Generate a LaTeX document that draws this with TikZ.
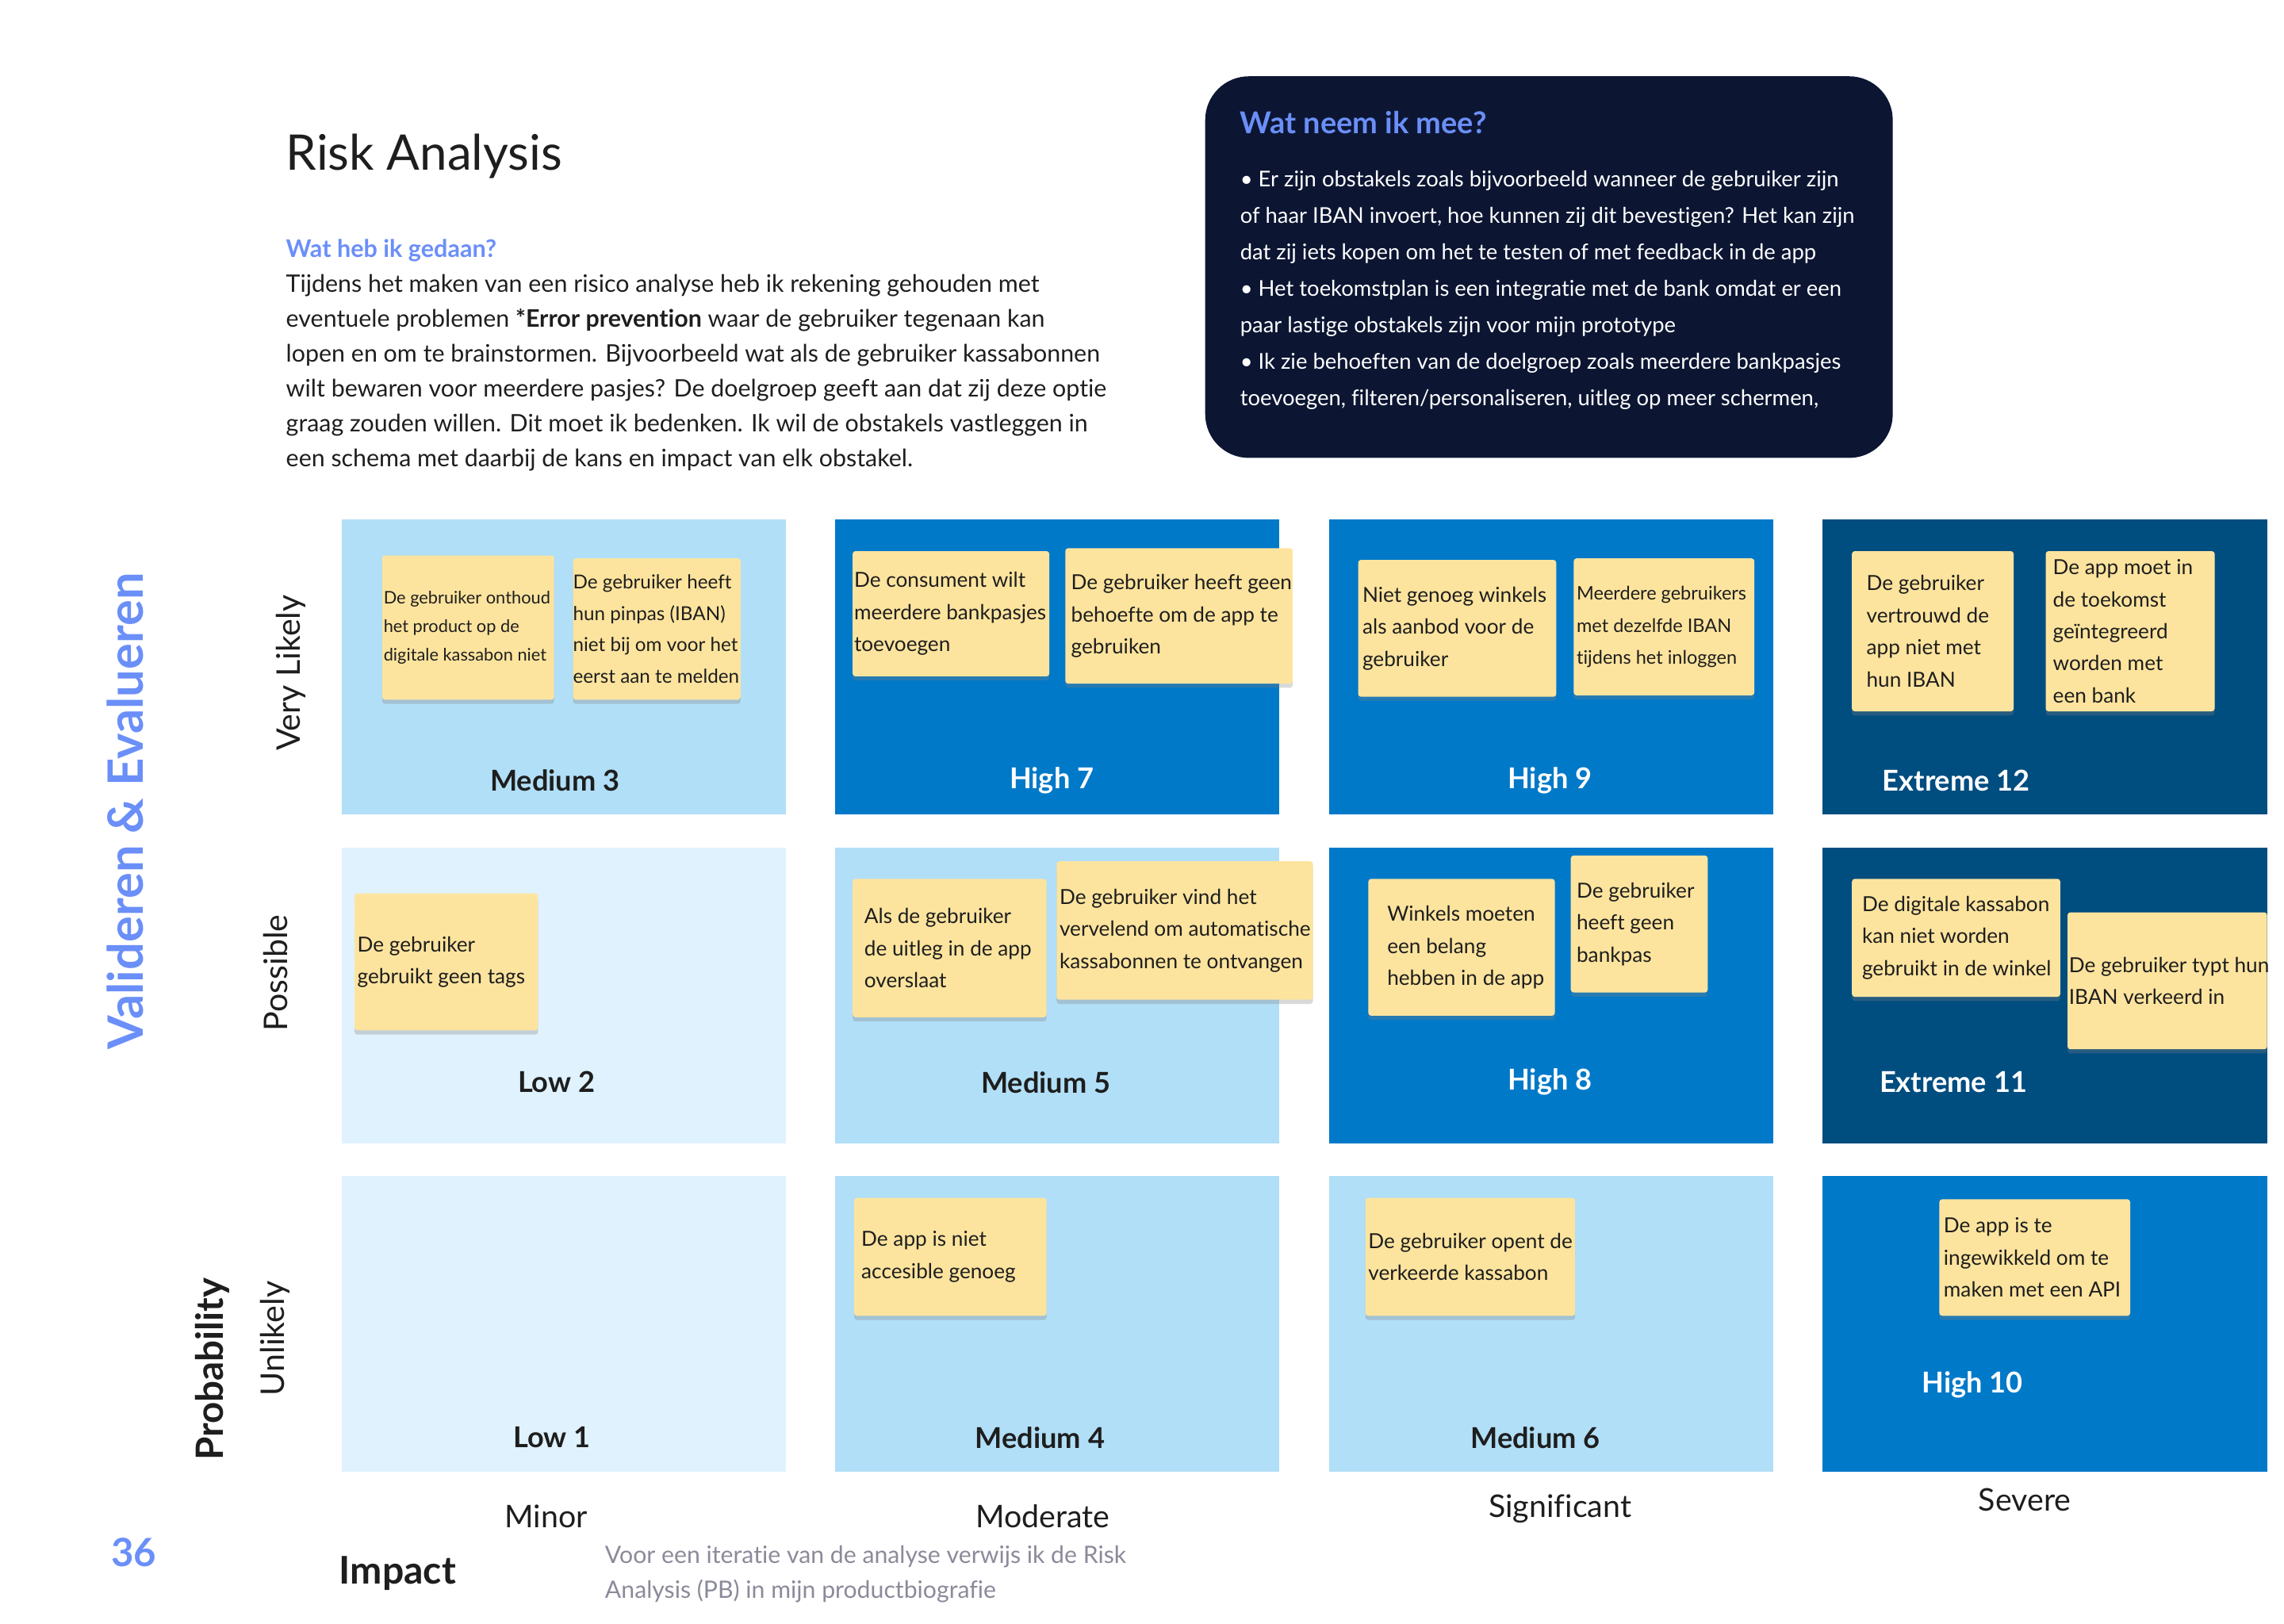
\documentclass[tikz,border=0pt]{standalone}
\usepackage{fontspec}
\setmainfont{Lato}[Ligatures=NoCommon]
\usetikzlibrary{shadows}
\definecolor{lowblue}{HTML}{DFF2FE}
\definecolor{medblue}{HTML}{B1DFF7}
\definecolor{highblue}{HTML}{0079C9}
\definecolor{extblue}{HTML}{004D80}
\definecolor{notefill}{HTML}{FDE49E}
\definecolor{navy}{HTML}{0C1633}
\definecolor{accent}{HTML}{6B8FF8}
\definecolor{ink}{HTML}{1E1E1E}
\definecolor{greytext}{HTML}{8A8A9A}
\newlength{\upx}\setlength{\upx}{0.018367cm}
% sticky note: [text style]{name}{x}{y}{width}{height}{inset}{text}
\newcommand{\sticky}[8][]{%
  \node[note, minimum width=#5*\upx, minimum height=#6*\upx, anchor=north west] (#2) at (#3,#4) {};
  \node[notetext, #1, anchor=west] (#2t) at ([xshift=#7*\upx]#2.west) {#8};}
\tikzset{
  cell/.style={minimum width=305*\upx, minimum height=203*\upx, anchor=north west, inner sep=0},
  note/.style={fill=notefill, rounded corners=1pt, inner sep=0,
    drop shadow={shadow xshift=0pt, shadow yshift=-1.5pt, opacity=0.3}},
  notetext/.style={inner sep=0, align=left, text=ink, font=\fontsize{7.45}{11.5}\selectfont},
  risk/.style={font=\fontsize{10.3}{12}\selectfont\bfseries},
  axis/.style={text=ink, font=\fontsize{11.2}{13}\selectfont},
  sidelabel/.style={text=ink, rotate=90, font=\fontsize{11.7}{13}\selectfont},
}
\begin{document}
\begin{tikzpicture}[x=0.018367cm, y=-0.018367cm]
  \useasboundingbox (0,0) rectangle (1568,1115);
  % header
  \node[anchor=west, inner sep=0, text=ink, font=\fontsize{17.6}{20}\selectfont] (title) at (196,107) {Risk Analysis};
  \node[anchor=west, inner sep=0, text=accent, font=\fontsize{8.7}{10}\selectfont\bfseries] (done) at (196,172) {Wat heb ik gedaan?};
  \node[anchor=north west, inner sep=0, align=left, text=ink, font=\fontsize{8.65}{12.5}\selectfont] (intro) at (196,188)
    {Tijdens het maken van een risico analyse heb ik rekening gehouden met\\
     eventuele problemen \textbf{*Error prevention} waar de gebruiker tegenaan kan\\
     lopen en om te brainstormen. Bijvoorbeeld wat als de gebruiker kassabonnen\\
     wilt bewaren voor meerdere pasjes? De doelgroep geeft aan dat zij deze optie\\
     graag zouden willen. Dit moet ik bedenken. Ik wil de obstakels vastleggen in\\
     een schema met daarbij de kans en impact van elk obstakel.};
  % takeaway box
  \node[fill=navy, rounded corners=0.55cm, inner sep=0, minimum width=472*\upx, minimum height=262*\upx, anchor=north west] (box) at (827,52) {};
  \node[anchor=west, inner sep=0, text=accent, font=\fontsize{10.8}{12}\selectfont\bfseries] (boxtitle) at (851,84) {Wat neem ik mee?};
  \node[anchor=north west, inner sep=0, align=left, text=white, font=\fontsize{7.8}{13.1}\selectfont] (boxtext) at (851,117)
    {• Er zijn obstakels zoals bijvoorbeeld wanneer de gebruiker zijn\\
     of haar IBAN invoert, hoe kunnen zij dit bevestigen? Het kan zijn\\
     dat zij iets kopen om het te testen of met feedback in de app\\
     • Het toekomstplan is een integratie met de bank omdat er een\\
     paar lastige obstakels zijn voor mijn prototype\\
     • Ik zie behoeften van de doelgroep zoals meerdere bankpasjes\\
     toevoegen, filteren/personaliseren, uitleg op meer schermen,};
  % risk matrix
  \foreach \r/\c/\col/\txt/\lab/\lx/\ly in {
      1/1/medblue/ink/Medium 3/381/536, 1/2/highblue/white/High 7/722/536,
      1/3/highblue/white/High 9/1064/536, 1/4/extblue/white/Extreme 12/1343/536,
      2/1/lowblue/ink/Low 2/382/743, 2/2/medblue/ink/Medium 5/718/743,
      2/3/highblue/white/High 8/1064/743, 2/4/extblue/white/Extreme 11/1341/743,
      3/1/lowblue/ink/Low 1/379/987, 3/2/medblue/ink/Medium 4/714/987,
      3/3/medblue/ink/Medium 6/1054/987, 3/4/highblue/white/High 10/1354/951}
    {\node[cell, fill=\col] (c\r\c) at ({234+339*(\c-1)}, {356+225.5*(\r-1)}) {};
     \node[risk, text=\txt] (l\r\c) at (\lx,\ly) {\lab};}
  % sticky notes
  \sticky[font=\fontsize{6.2}{10.2}\selectfont]{n1}{262}{381}{118}{99}{1}{De gebruiker onthoud\\het product op de\\digitale kassabon niet}
  \sticky[font=\fontsize{6.9}{11.3}\selectfont]{n2}{393}{383}{115}{97}{0}{De gebruiker heeft\\hun pinpas (IBAN)\\niet bij om voor het\\eerst aan te melden}
  \sticky{n3}{585}{378}{135}{86}{1}{De consument wilt\\meerdere bankpasjes\\toevoegen}
  \sticky{n4}{731}{376}{156}{93}{4}{De gebruiker heeft geen\\behoefte om de app te\\gebruiken}
  \sticky{n5}{932}{384}{136}{94}{3}{Niet genoeg winkels\\als aanbod voor de\\gebruiker}
  \sticky[font=\fontsize{6.7}{11.5}\selectfont]{n6}{1080}{383}{124}{94}{2}{Meerdere gebruikers\\met dezelfde IBAN\\tijdens het inloggen}
  \sticky{n7}{1271}{378}{111}{110}{10}{De gebruiker\\vertrouwd de\\app niet met\\hun IBAN}
  \sticky{n8}{1404}{378}{116}{110}{5}{De app moet in\\de toekomst\\geïntegreerd\\worden met\\een bank}
  \sticky{n9}{243}{613}{126}{94}{2}{De gebruiker\\gebruikt geen tags}
  \sticky{n10}{585}{603}{133}{95}{8}{Als de gebruiker\\de uitleg in de app\\overslaat}
  \sticky{n11}{725}{591}{176}{95}{2}{De gebruiker vind het\\vervelend om automatische\\kassabonnen te ontvangen}
  \sticky{n12}{939}{603}{128}{94}{13}{Winkels moeten\\een belang\\hebben in de app}
  \sticky{n13}{1078}{587}{94}{94}{4}{De gebruiker\\heeft geen\\bankpas}
  \sticky{n14}{1271}{603}{143}{81}{7}{De digitale kassabon\\kan niet worden\\gebruikt in de winkel}
  \sticky{n15}{1419}{626}{137}{94}{1}{De gebruiker typt hun\\IBAN verkeerd in}
  \sticky{n16}{586}{822}{132}{81}{5}{De app is niet\\accesible genoeg}
  \sticky{n17}{937}{822}{144}{81}{2}{De gebruiker opent de\\verkeerde kassabon}
  \sticky{n18}{1331}{823}{131}{80}{3}{De app is te\\ingewikkeld om te\\maken met een API}
  % axes
  \node[sidelabel] (vlikely) at (200,462) {Very Likely};
  \node[sidelabel] (possible) at (189,668) {Possible};
  \node[sidelabel] (unlikely) at (189,919) {Unlikely};
  \node[rotate=90, text=ink, font=\fontsize{13.5}{15}\selectfont\bfseries] (prob) at (146,940) {Probability};
  \node[rotate=90, text=accent, font=\fontsize{17.5}{20}\selectfont\bfseries] (section) at (86,557) {Valideren \& Evalueren};
  \node[axis] (minor) at (375,1041) {Minor};
  \node[axis] (moderate) at (716,1041) {Moderate};
  \node[axis] (significant) at (1071,1036) {Significant};
  \node[axis] (severe) at (1390,1030) {Severe};
  \node[text=ink, font=\fontsize{13.7}{15}\selectfont\bfseries] (impact) at (273,1080) {Impact};
  \node[text=accent, font=\fontsize{14}{16}\selectfont\bfseries] (page) at (92,1066) {36};
  \node[anchor=north west, inner sep=0, align=left, text=greytext, font=\fontsize{8.6}{12.5}\selectfont] (footer) at (415,1061)
    {Voor een iteratie van de analyse verwijs ik de Risk\\Analysis (PB) in mijn productbiografie};
\end{tikzpicture}
\end{document}
